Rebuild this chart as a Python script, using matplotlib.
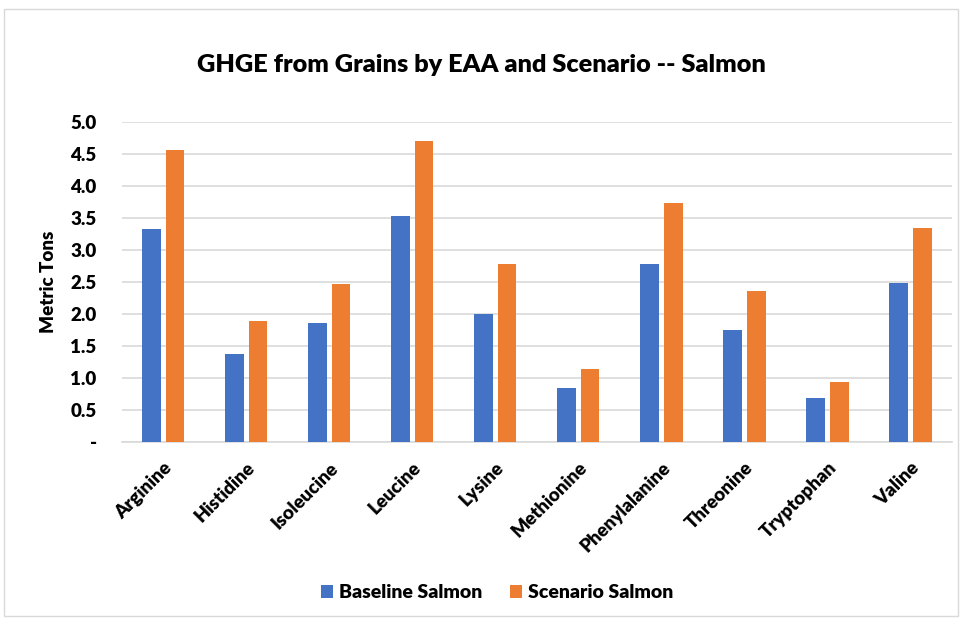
import matplotlib.pyplot as plt
import numpy as np
from matplotlib.patches import Rectangle

acids = ["Arginine", "Histidine", "Isoleucine", "Leucine", "Lysine",
         "Methionine", "Phenylalanine", "Threonine", "Tryptophan", "Valine"]
baseline = [3.33, 1.38, 1.86, 3.54, 2.01, 0.85, 2.78, 1.75, 0.69, 2.49]
scenario = [4.56, 1.89, 2.47, 4.70, 2.78, 1.14, 3.74, 2.36, 0.94, 3.35]
yticks = [0, 0.5, 1.0, 1.5, 2.0, 2.5, 3.0, 3.5, 4.0, 4.5, 5.0]
ytick_labels = ["-"] + [f"{v:.1f}" for v in yticks[1:]]

plt.rcParams['font.family'] = ['Lato', 'DejaVu Sans']

fig = plt.figure(figsize=(9.62, 6.2), dpi=100)
ax = fig.add_axes([121.7 / 962, 1 - 442.3 / 620, (952 - 121.7) / 962, (442.3 - 122) / 620])

# chart border
fig.patches.append(Rectangle((4 / 962, 4 / 620), 954 / 962, 607 / 620,
                             transform=fig.transFigure, fill=False,
                             edgecolor="#d9d9d9", linewidth=1))

x = np.arange(len(acids))
w = 0.225
off = 0.142
ax.bar(x - off, baseline, w, color="#4472c4", label="Baseline Salmon", zorder=3)
ax.bar(x + off, scenario, w, color="#ed7d31", label="Scenario Salmon", zorder=3)

ax.set_xlim(-0.5, len(acids) - 0.5)
ax.set_ylim(0, 5.0)
ax.set_yticks(yticks)
ax.set_yticklabels(ytick_labels, fontsize=13.5, fontweight="heavy")
ax.set_xticks(x)
ax.set_xticklabels(acids, rotation=45, ha="right", rotation_mode="anchor",
                   fontsize=13.5, fontweight="heavy")
ax.tick_params(length=0)
ax.tick_params(axis="x", pad=12)
ax.tick_params(axis="y", pad=18)

ax.grid(axis="y", color="#d9d9d9", linewidth=1.2, zorder=0)
for s in ["top", "right", "left"]:
    ax.spines[s].set_visible(False)
ax.spines["bottom"].set_color("#d9d9d9")
ax.spines["bottom"].set_linewidth(1.2)

ax.set_ylabel("Metric Tons", fontsize=13.5, fontweight="heavy", labelpad=10)
fig.text(0.5, 1 - 65 / 620, "GHGE from Grains by EAA and Scenario -- Salmon",
         ha="center", va="center", fontsize=18.2, fontweight="heavy")

fig.legend(loc="center", bbox_to_anchor=(497 / 962, 1 - 593 / 620), ncol=2,
           frameon=False, prop={"weight": "heavy", "size": 14},
           handlelength=0.65, handleheight=0.65, columnspacing=1.4, handletextpad=0.3)

fig.savefig("out.png", dpi=100)
